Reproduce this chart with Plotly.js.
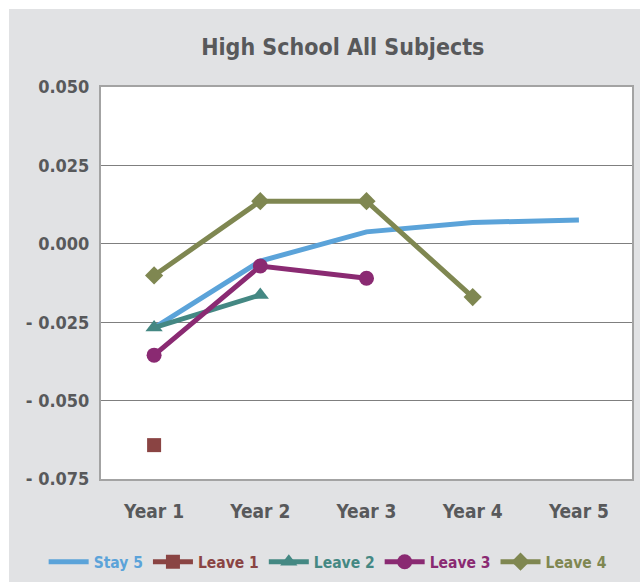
<!DOCTYPE html>
<html><head><meta charset="utf-8">
<script src="https://cdn.plot.ly/plotly-3.0.1.min.js"></script>
<style>
html,body{margin:0;padding:0;background:#ffffff;}
#chart{position:absolute;left:9px;top:9px;width:631px;height:573px;}
</style></head>
<body><div id="chart"></div>
<script>
const categories = ["Year 1","Year 2","Year 3","Year 4","Year 5"];
const stay5  = [-0.0268, -0.0055, 0.0038, 0.0068, 0.0076];
const leave1 = [-0.0642, null, null, null, null];
const leave2 = [-0.0267, -0.0163, null, null, null];
const leave3 = [-0.0355, -0.0071, -0.0110, null, null];
const leave4 = [-0.0101, 0.0136, 0.0136, -0.0170, null];
const seriesNames = ["Stay 5","Leave 1","Leave 2","Leave 3","Leave 4"];
const yTickVals = [0.05, 0.025, 0, -0.025, -0.05, -0.075];
const yTickText = ["0.050","0.025","0.000","- 0.025","- 0.050","- 0.075"];

const colors = ["#5BA3D9","#8A4443","#448883","#8A2A72","#7F8751"];
const FONT = "'DejaVu Sans Condensed', 'Liberation Sans Narrow', sans-serif";

function nm(i){ return '<b><span style="color:'+colors[i]+'">'+seriesNames[i]+'</span></b>'; }

const traces = [
  {x:categories, y:stay5, name:nm(0), mode:'lines', line:{color:colors[0], width:5}},
  {x:categories, y:leave1, name:nm(1), mode:'lines+markers', line:{color:colors[1], width:5},
   marker:{symbol:'square', size:14, color:colors[1]}},
  {x:categories, y:leave2, name:nm(2), mode:'lines+markers', line:{color:colors[2], width:5},
   marker:{symbol:'triangle-up', size:15, color:colors[2]}},
  {x:categories, y:leave3, name:nm(3), mode:'lines+markers', line:{color:colors[3], width:5},
   marker:{symbol:'circle', size:15, color:colors[3]}},
  {x:categories, y:leave4, name:nm(4), mode:'lines+markers', line:{color:colors[4], width:5},
   marker:{symbol:'diamond', size:14, color:colors[4]}}
];

const layout = {
  width:631, height:573,
  paper_bgcolor:'#E1E2E4', plot_bgcolor:'#ffffff',
  margin:{l:92, r:8, t:78, b:103, autoexpand:false},
  font:{family:FONT, color:'#58595B', size:17},
  title:{text:'<b>High School All Subjects</b>', x:0.529, xanchor:'center', y:0.934, yanchor:'middle',
         font:{family:FONT, size:23, color:'#58595B'}},
  showlegend:true,
  legend:{orientation:'h', x:-0.108, xanchor:'left', y:-0.212, yanchor:'middle',
          font:{family:FONT, size:15.5}, bgcolor:'rgba(0,0,0,0)', traceorder:'normal',
          itemwidth:40, tracegroupgap:0},
  xaxis:{type:'category', range:[-0.5,4.5], showgrid:false, zeroline:false,
         showline:true, linecolor:'#A3A3A3', linewidth:2, mirror:true, automargin:false,
         ticks:'', tickfont:{family:FONT, size:19, color:'#58595B'},
         tickvals:categories, ticktext:categories.map(c=>'<b>'+c+'</b>'), ticklabelstandoff:14},
  yaxis:{range:[-0.075,0.05], tickvals:yTickVals, ticktext:yTickText.map(t=>'<b>'+t+'</b>'),
         showgrid:true, gridcolor:'#7F7F7F', gridwidth:1, zeroline:false, automargin:false,
         showline:true, linecolor:'#A3A3A3', linewidth:2, mirror:true,
         ticks:'', tickfont:{family:FONT, size:18, color:'#58595B'}, ticklabelstandoff:6}
};

Plotly.newPlot('chart', traces, layout, {displayModeBar:false, staticPlot:true});
</script></body></html>
